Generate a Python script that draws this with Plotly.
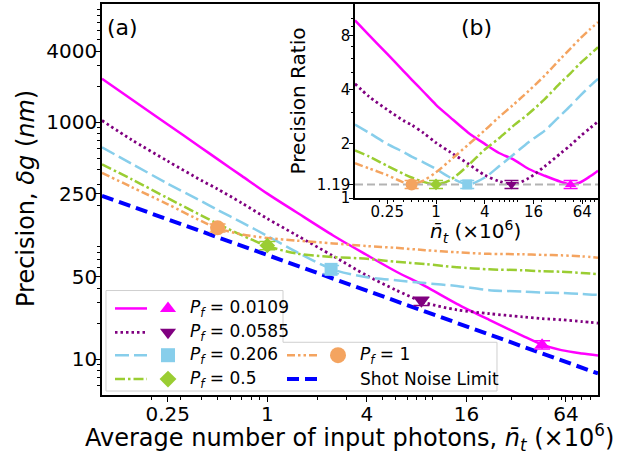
import plotly.graph_objects as go

# ---------------- data ----------------
n_t = [0.1, 0.15, 0.25, 0.4, 0.5, 0.7, 1, 1.5, 2.5, 4, 6, 9, 14, 22, 35, 46, 60, 80, 100]
shot_noise = [240.3, 196.2, 152.0, 120.2, 107.5, 90.8, 76.0, 62.1, 48.1, 38.0,
              31.0, 25.3, 20.3, 16.2, 12.85, 11.2, 9.81, 8.50, 7.6]

# precision ratio (curve / shot-noise limit)
ratio_0109 = [9.73, 8.04, 6.33, 5.07, 4.56, 3.90, 3.30, 2.81, 2.31, 2.00, 1.78, 1.64, 1.45, 1.33, 1.23, 1.19, 1.22, 1.32, 1.42]
ratio_0585 = [4.32, 3.66, 3.10, 2.69, 2.55, 2.30, 2.03, 1.80, 1.55, 1.34, 1.24, 1.19, 1.29, 1.50, 1.78, 1.97, 2.20, 2.45, 2.66]
ratio_0206 = [2.56, 2.30, 2.00, 1.80, 1.70, 1.58, 1.45, 1.30, 1.19, 1.30, 1.50, 1.74, 2.05, 2.37, 2.90, 3.27, 3.70, 4.20, 4.60]
ratio_05 = [1.84, 1.70, 1.51, 1.36, 1.30, 1.23, 1.19, 1.26, 1.52, 1.86, 2.15, 2.52, 2.95, 3.55, 4.40, 4.95, 5.60, 6.30, 6.90]
ratio_1 = [1.56, 1.46, 1.34, 1.22, 1.19, 1.25, 1.39, 1.62, 1.98, 2.38, 2.82, 3.30, 3.95, 4.80, 6.00, 6.80, 7.70, 8.70, 9.50]

pf_labels = ["0.0109", "0.0585", "0.206", "0.5", "1"]
opt_n = [45.9, 8.55, 2.43, 1.0, 0.5]
opt_dg = [13.3, 31.0, 57.5, 91.5, 129.0]
opt_err_dg = [1.07, 2.5, 4.6, 7.2, 10.2]
opt_ratio = [1.19, 1.19, 1.19, 1.19, 1.19]
opt_err_ratio = [0.06, 0.06, 0.06, 0.06, 0.06]
ratio_line = 1.19

x_ticks = [0.25, 1, 4, 16, 64]
x_ticktext = ["0.25", "1", "4", "16", "64"]
y_ticks = [10, 50, 250, 1000, 4000]
y_ticktext = ["10", "50", "250", "1000", "4000"]
r_ticks = [1, 1.19, 2, 4, 8]
r_ticktext = ["1", "1.19", "2", "4", "8"]

x_minor = [0.2, 0.3, 0.4, 0.5, 0.6, 0.7, 0.8, 0.9, 2, 3, 5, 6, 7, 8, 9, 10,
           20, 30, 40, 50, 60, 70, 80, 90]
y_minor = [6, 7, 8, 9, 20, 30, 40, 60, 70, 80, 90, 200, 300, 400, 500, 600, 700,
           800, 900, 2000, 3000, 5000, 6000, 7000, 8000, 9000]
r_minor = [3, 5, 6, 7, 9, 10]

# ---------------- styles ----------------
ratios = [ratio_0109, ratio_0585, ratio_0206, ratio_05, ratio_1]
colors = ["#ff00ff", "#800080", "#87ceeb", "#9acd32", "#f4a460"]
dashes = ["solid", "2.5px,3px", "14px,5px", "10px,3px,2.5px,3px", "8px,3px,2.5px,3px,2.5px,3px"]
widths = [2.5, 2.8, 2.5, 2.5, 2.5]
symbols = ["triangle-up", "triangle-down", "square", "diamond", "circle"]
msizes = [13, 13, 13, 12, 15]
snl_color = "#0000ff"
snl_dash = "12px,6px"
FONT = "DejaVu Sans"

fig = go.Figure()

# ---------------- panel (a) ----------------
for i in range(5):
    dg = [r * s for r, s in zip(ratios[i], shot_noise)]
    fig.add_trace(go.Scatter(x=n_t, y=dg, mode="lines", xaxis="x", yaxis="y",
                             line=dict(color=colors[i], dash=dashes[i], width=widths[i],
                                       shape="spline", smoothing=0.8),
                             showlegend=False, hoverinfo="skip"))
fig.add_trace(go.Scatter(x=n_t, y=shot_noise, mode="lines", xaxis="x", yaxis="y",
                         line=dict(color=snl_color, dash=snl_dash, width=4),
                         showlegend=False, hoverinfo="skip"))
for i in range(5):
    fig.add_trace(go.Scatter(x=[opt_n[i]], y=[opt_dg[i]], mode="markers", xaxis="x", yaxis="y",
                             marker=dict(symbol=symbols[i], size=msizes[i], color=colors[i],
                                         opacity=1, line=dict(width=0)),
                             error_y=dict(type="data", array=[opt_err_dg[i]], visible=True,
                                          color=colors[i], thickness=1.5, width=8),
                             showlegend=False, hoverinfo="skip"))

# ---------------- panel (b) inset ----------------
for i in range(5):
    fig.add_trace(go.Scatter(x=n_t, y=ratios[i], mode="lines", xaxis="x2", yaxis="y2",
                             line=dict(color=colors[i], dash=dashes[i], width=widths[i],
                                       shape="spline", smoothing=0.8),
                             showlegend=False, hoverinfo="skip"))
fig.add_trace(go.Scatter(x=[n_t[0], n_t[-1]], y=[ratio_line, ratio_line], mode="lines",
                         xaxis="x2", yaxis="y2",
                         line=dict(color="#b3b3b3", dash="8px,4px", width=2),
                         showlegend=False, hoverinfo="skip"))
for i in range(5):
    fig.add_trace(go.Scatter(x=[opt_n[i]], y=[opt_ratio[i]], mode="markers", xaxis="x2", yaxis="y2",
                             marker=dict(symbol=symbols[i], size=msizes[i] - 3, color=colors[i],
                                         opacity=1, line=dict(width=0)),
                             error_y=dict(type="data", array=[opt_err_ratio[i]], visible=True,
                                          color=colors[i], thickness=1.5, width=7),
                             showlegend=False, hoverinfo="skip"))

# ---------------- layout helpers (pixel -> paper) ----------------
L, R, T, B = 102, 598, 2, 395
PW, PH = R - L, B - T


def px(x):
    return (x - L) / PW


def py(y):
    return (B - y) / PH


# ---------------- custom legend ----------------
rows = [308, 332, 355, 379]
leg_entries = [  # (row, line x0, marker x, text x, index or None)
    (0, 115, 168, 188, 0),
    (1, 115, 168, 188, 1),
    (2, 115, 168, 188, 2),
    (3, 115, 168, 188, 3),
    (2, 287, 338, 358, 4),
    (3, 287, None, 358, None),
]
shapes = []
box = [(106, 290), (283, 290), (283, 342), (497, 342), (497, 391), (106, 391)]
path = "M " + " L ".join(f"{px(a):.5f},{py(b):.5f}" for a, b in box) + " Z"
shapes.append(dict(type="path", path=path, xref="paper", yref="paper",
                   fillcolor="rgba(255,255,255,0.8)", line=dict(color="#cfcfcf", width=1),
                   layer="below"))
annotations = []
mk_x, mk_y, mk_sym, mk_col, mk_size = [], [], [], [], []
for row, lx, mx, tx, idx in leg_entries:
    yy = py(rows[row])
    if idx is None:
        col, dash, w = snl_color, snl_dash, 4
        label = "Shot Noise Limit"
    else:
        col, dash, w = colors[idx], dashes[idx], widths[idx]
        label = f"<i>P</i><sub><i>f</i></sub> = {pf_labels[idx]}"
    shapes.append(dict(type="line", xref="paper", yref="paper", x0=px(lx), x1=px(lx + 32),
                       y0=yy, y1=yy, line=dict(color=col, dash=dash, width=w), layer="above"))
    if mx is not None:
        mk_x.append(px(mx)); mk_y.append(yy)
        mk_sym.append(symbols[idx]); mk_col.append(colors[idx]); mk_size.append(msizes[idx] + 1)
    annotations.append(dict(text=label, xref="paper", yref="paper", x=px(tx), y=yy,
                            xanchor="left", yanchor="middle", showarrow=False,
                            font=dict(family=FONT, size=17, color="black")))

fig.add_trace(go.Scatter(x=mk_x, y=mk_y, mode="markers", xaxis="x3", yaxis="y3",
                         marker=dict(symbol=mk_sym, color=mk_col, size=mk_size, opacity=1,
                                     line=dict(width=0)),
                         showlegend=False, hoverinfo="skip"))


# ---------------- text labels ----------------
def ann(text, x, y, size, angle=0):
    annotations.append(dict(text=text, xref="paper", yref="paper", x=px(x), y=py(y),
                            xanchor="center", yanchor="middle", showarrow=False, textangle=angle,
                            font=dict(family=FONT, size=size, color="black")))


ann("(a)", 122, 26, 22)
ann("(b)", 476, 26, 22)
ann("Precision Ratio", 298, 100, 20, -90)
ann("<i>n\u0304</i><sub><i>t</i></sub> (×10<sup>6</sup>)", 475, 231, 20)
ann("Average number of input photons, <i>n\u0304</i><sub><i>t</i></sub> (×10<sup>6</sup>)", 349, 438, 24)
ann("Precision, <i>δg</i> (<i>nm</i>)", 26, 198, 24, -90)

axis_common = dict(type="log", showgrid=False, zeroline=False, showline=True,
                   linecolor="black", linewidth=1.5, mirror=True, ticks="outside",
                   tickcolor="black", tickwidth=1.3)

fig.update_layout(
    width=641, height=457,
    margin=dict(l=L, r=641 - R, t=T, b=457 - B, pad=0),
    paper_bgcolor="white", plot_bgcolor="white",
    font=dict(family=FONT, color="black"),
    showlegend=False,
    xaxis=dict(**axis_common, domain=[0, 1], anchor="y", range=[-1, 2], ticklen=5,
               ticklabelstandoff=-5,
               tickvals=x_ticks, ticktext=x_ticktext, tickfont=dict(size=20, family=FONT),
               minor=dict(tickvals=x_minor, ticks="outside", ticklen=3, tickcolor="black", tickwidth=1)),
    yaxis=dict(**axis_common, domain=[0, 1], anchor="x", range=[0.69897, 4], ticklen=5,
               ticklabelstandoff=-6,
               tickvals=y_ticks, ticktext=y_ticktext, tickfont=dict(size=20, family=FONT),
               minor=dict(tickvals=y_minor, ticks="outside", ticklen=3, tickcolor="black", tickwidth=1)),
    xaxis2=dict(**axis_common, domain=[px(355), 1.0], anchor="y2", range=[-1, 2], ticklen=4,
                ticklabelstandoff=-5,
                tickvals=x_ticks, ticktext=x_ticktext, tickfont=dict(size=15, family=FONT),
                minor=dict(tickvals=x_minor, ticks="outside", ticklen=2.5, tickcolor="black", tickwidth=1)),
    yaxis2=dict(**axis_common, domain=[py(197), 1.0], anchor="x2", range=[0, 1.07918], ticklen=4,
                ticklabelstandoff=-4,
                tickvals=r_ticks, ticktext=r_ticktext, tickfont=dict(size=15, family=FONT),
                minor=dict(tickvals=r_minor, ticks="outside", ticklen=2.5, tickcolor="black", tickwidth=1)),
    xaxis3=dict(overlaying="x", anchor="y3", range=[0, 1], visible=False),
    yaxis3=dict(overlaying="y", anchor="x3", range=[0, 1], visible=False),
    shapes=shapes,
    annotations=annotations,
)

fig.write_html("out.html", config={"displayModeBar": False},
               post_script="document.body.style.margin='0';document.body.style.overflow='hidden';")
